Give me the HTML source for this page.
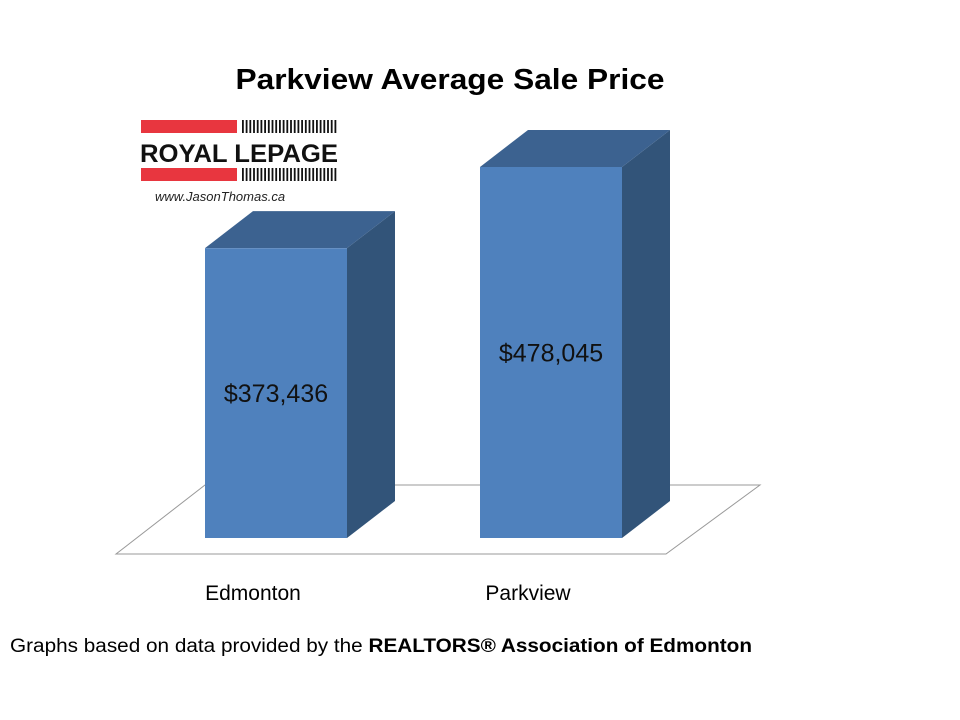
<!DOCTYPE html>
<html><head><meta charset="utf-8"><style>
html,body{margin:0;padding:0;background:#fff;}
svg{display:block;font-family:"Liberation Sans",sans-serif;}
</style></head><body>
<svg id="chart" width="960" height="720" viewBox="0 0 960 720">
<text x="450" y="89" text-anchor="middle" font-size="29" font-weight="bold" fill="#000" textLength="429" lengthAdjust="spacingAndGlyphs">Parkview Average Sale Price</text>
<g>
<rect x="141" y="120" width="96" height="13" fill="#e8363f"/>
<rect x="141" y="168" width="96" height="13" fill="#e8363f"/>
<g id="bars1"></g>
<text x="140" y="162" font-size="25" font-weight="bold" fill="#111" textLength="198" lengthAdjust="spacingAndGlyphs">ROYAL LEPAGE</text>
<text x="155" y="201" font-size="13" font-style="italic" fill="#222">www.JasonThomas.ca</text>
</g>
<polygon points="116,554 666,554 760,485 205,485" fill="#fff" stroke="#999" stroke-width="1"/>
<g id="bars"></g>
<text x="10" y="652" font-size="19" fill="#000" textLength="742" lengthAdjust="spacingAndGlyphs">Graphs based on data provided by the <tspan font-weight="bold">REALTORS® Association of Edmonton</tspan></text>
</svg>
<script>
const categories = ["Edmonton", "Parkview"];
const values = [373436, 478045];
const valueLabels = ["$373,436", "$478,045"];

const NS = "http://www.w3.org/2000/svg";
const base = 538, scale = 371 / 478045;
const xLeft = [205, 480], w = 142, dx = 48, dy = 37;
function y(v){ return base - v * scale; }
function mk(tag, attrs, parent){ const e = document.createElementNS(NS, tag); for (const k in attrs) e.setAttribute(k, attrs[k]); parent.appendChild(e); return e; }

const lg = document.getElementById('bars1');
for (let i = 0; i < 26; i++) {
  mk('rect', {x: 242 + i*3.7, y: 120, width: 1.8, height: 13, fill: '#111'}, lg);
  mk('rect', {x: 242 + i*3.7, y: 168, width: 1.8, height: 13, fill: '#111'}, lg);
}

const g = document.getElementById('bars');
values.forEach((v, i) => {
  const x0 = xLeft[i], top = y(v);
  const bar = mk('g', {}, g);
  
  
  mk('polygon', {points: `${x0+w},${top} ${x0+w+dx},${top-dy} ${x0+w+dx},${base-dy} ${x0+w},${base}`, fill: '#325479'}, bar);
  mk('polygon', {points: `${x0},${top} ${x0+dx},${top-dy} ${x0+w+dx},${top-dy} ${x0+w},${top}`, fill: '#3c6290'}, bar);
  mk('rect', {x: x0, y: top, width: w, height: base - top, fill: '#4f81bd'}, bar);
  const t = mk('text', {x: x0 + w/2, y: (top + base)/2 + 9, 'text-anchor': 'middle', 'font-size': 25, fill: '#111'}, g);
  
  
  t.textContent = valueLabels[i];
  const c = mk('text', {x: x0 + w/2 - 23, y: 600, 'text-anchor': 'middle', 'font-size': 21, fill: '#000'}, g);
  
  
  c.textContent = categories[i];
});
</script>
</body></html>
